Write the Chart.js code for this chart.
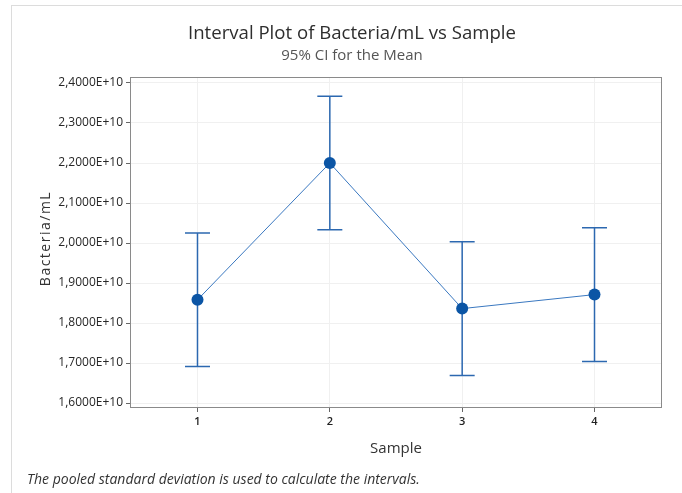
<!DOCTYPE html>
<html>
<head>
<meta charset="utf-8">
<script src="https://cdn.jsdelivr.net/npm/chart.js@4"></script>
<style>
  html, body { margin: 0; padding: 0; background: #fff; }
  #wrap { position: relative; width: 682px; height: 493px; overflow: hidden; font-family: "Open Sans", sans-serif; }
  #frame { position: absolute; left: 11px; top: 5px; right: 0; bottom: 0;
           border-top: 1px solid #dcdcdc; border-left: 1px solid #dcdcdc; }
  .head { position: absolute; left: 52px; width: 600px; text-align: center; white-space: nowrap; }
  #title { top: 21px; font-size: 18.6px; line-height: 22px; color: #2e2e2e; }
  #subtitle { top: 45px; font-size: 15px; line-height: 18px; color: #555; }
  #note { position: absolute; left: 27px; top: 469px; font-style: italic; font-size: 14px; color: #333; }
  canvas { position: absolute; left: 0; top: 0; }
</style>
</head>
<body>
<div id="wrap">
  <div id="frame"></div>
  <canvas id="myChart" width="682" height="493"></canvas>
  <div class="head" id="title">Interval Plot of Bacteria/mL vs Sample</div>
  <div class="head" id="subtitle">95% CI for the Mean</div>
  <div id="note">The pooled standard deviation is used to calculate the intervals.</div>
</div>
<script>
// samples and 95% CI for the mean
var samples = [1, 2, 3, 4];
var means = [18580000000, 22000000000, 18360000000, 18710000000];
var lower = [16910000000, 20330000000, 16690000000, 17040000000];
var upper = [20250000000, 23670000000, 20030000000, 20380000000];

var yTickValues = [16000000000, 17000000000, 18000000000, 19000000000, 20000000000, 21000000000, 22000000000, 23000000000, 24000000000];
var yTickLabels = ['1,6000E+10', '1,7000E+10', '1,8000E+10', '1,9000E+10', '2,0000E+10', '2,1000E+10', '2,2000E+10', '2,3000E+10', '2,4000E+10'];
var xTickLabels = ['1', '2', '3', '4'];
var yTitle = 'Bacteria/mL';

var points = samples.map(function (s, i) { return { x: s, y: means[i] }; });

// whiskers with caps, box around plot area, spaced y title
var intervals = {
    id: 'intervals',
    beforeDatasetsDraw: function (chart) {
        var ctx = chart.ctx, xs = chart.scales.x, ys = chart.scales.y, a = chart.chartArea;
        ctx.save();
        ctx.strokeStyle = '#8a8a8a';
        ctx.lineWidth = 1;
        ctx.strokeRect(a.left + 0.5, a.top + 0.5, a.right - a.left - 1, a.bottom - a.top - 1);

        ctx.strokeStyle = '#2c68b0';
        ctx.lineWidth = 1.5;
        samples.forEach(function (s, i) {
            var x = xs.getPixelForValue(s);
            var y1 = ys.getPixelForValue(lower[i]);
            var y2 = ys.getPixelForValue(upper[i]);
            ctx.beginPath();
            ctx.moveTo(x, y1); ctx.lineTo(x, y2);
            ctx.moveTo(x - 12.5, y1); ctx.lineTo(x + 12.5, y1);
            ctx.moveTo(x - 12.5, y2); ctx.lineTo(x + 12.5, y2);
            ctx.stroke();
        });

        ctx.translate(46, (a.top + a.bottom) / 2 - 4);
        ctx.rotate(-Math.PI / 2);
        ctx.letterSpacing = '1.5px';
        ctx.font = '14px "Open Sans"';
        ctx.fillStyle = '#333';
        ctx.textAlign = 'center';
        ctx.textBaseline = 'middle';
        ctx.fillText(yTitle, 0, 0);
        ctx.restore();
    }
};

var ctx = document.getElementById('myChart').getContext('2d');
var chart = new Chart(ctx, {
    type: 'line',
    data: {
        datasets: [{
            data: points,
            borderColor: '#3a78c0',
            borderWidth: 1,
            pointRadius: 6,
            pointBackgroundColor: '#0b55a5',
            pointBorderColor: '#0b55a5',
            pointBorderWidth: 0,
            tension: 0
        }]
    },
    options: {
        responsive: false,
        animation: false,
        layout: { padding: { left: 30, right: 20, top: 77, bottom: 30 } },
        plugins: {
            legend: { display: false },
            tooltip: { enabled: false }
        },
        scales: {
            x: {
                type: 'linear',
                min: 0.49,
                max: 4.51,
                afterBuildTicks: function (scale) {
                    scale.ticks = samples.map(function (v) { return { value: v }; });
                },
                afterFit: function (scale) { scale.height = 55; },
                ticks: {
                    padding: 3,
                    color: '#222',
                    font: { family: 'Open Sans', size: 11, weight: '600' },
                    callback: function (v, i) { return xTickLabels[i]; }
                },
                grid: { color: '#f0f0f0', tickColor: '#666', tickLength: 4 },
                border: { display: false },
                title: {
                    display: true,
                    text: 'Sample',
                    color: '#333',
                    font: { family: 'Open Sans', size: 15 },
                    padding: { top: 0, bottom: 5 }
                }
            },
            y: {
                min: 15875000000,
                max: 24150000000,
                afterBuildTicks: function (scale) {
                    scale.ticks = yTickValues.map(function (v) { return { value: v }; });
                },
                afterFit: function (scale) { scale.width = 100; },
                ticks: {
                    padding: 3,
                    color: '#262626',
                    font: { family: 'Open Sans', size: 12 },
                    callback: function (v, i) { return yTickLabels[i]; }
                },
                grid: { color: '#f0f0f0', tickColor: '#666', tickLength: 4 },
                border: { display: false }
            }
        }
    },
    plugins: [intervals]
});
</script>
</body>
</html>
